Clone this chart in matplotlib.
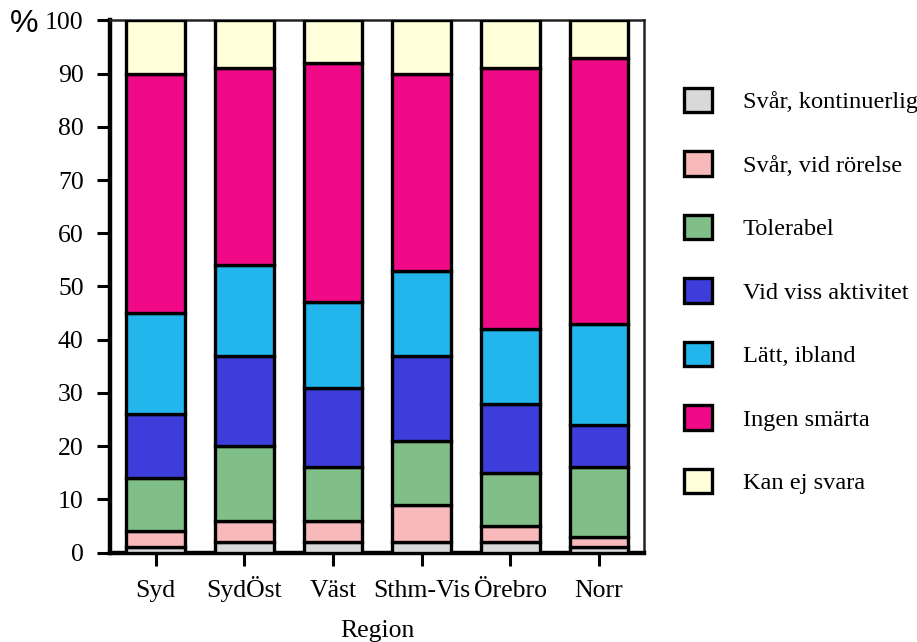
import matplotlib
matplotlib.use("Agg")
import matplotlib.pyplot as plt
import numpy as np

regions = ["Syd", "SydÖst", "Väst", "Sthm-Vis", "Örebro", "Norr"]
series = ["Svår, kontinuerlig", "Svår, vid rörelse", "Tolerabel",
          "Vid viss aktivitet", "Lätt, ibland", "Ingen smärta", "Kan ej svara"]

svar_kontinuerlig = [1, 2, 2, 2, 2, 1]
svar_vid_rorelse = [3, 4, 4, 7, 3, 2]
tolerabel = [10, 14, 10, 12, 10, 13]
vid_viss_aktivitet = [12, 17, 15, 16, 13, 8]
latt_ibland = [19, 17, 16, 16, 14, 19]
ingen_smarta = [45, 37, 45, 37, 49, 50]
kan_ej_svara = [10, 9, 8, 10, 9, 7]

values = [svar_kontinuerlig, svar_vid_rorelse, tolerabel, vid_viss_aktivitet,
          latt_ibland, ingen_smarta, kan_ej_svara]
colors = ["#d9d9d9", "#f7b9b9", "#80c088", "#3d3ddc", "#22b6ec", "#f00a87", "#ffffda"]

serif = ["Liberation Serif", "DejaVu Serif"]
plt.rcParams["font.family"] = serif

fig = plt.figure(figsize=(9.17, 6.42), dpi=100)
ax = fig.add_axes([0.12, 0.1394, 0.5823, 0.8287])

x = np.arange(len(regions))
bottom = np.zeros(len(regions))
handles = []
for vals, col, name in zip(values, colors, series):
    b = ax.bar(x, vals, width=0.66, bottom=bottom, color=col,
               edgecolor="black", linewidth=2.4, label=name, zorder=3)
    handles.append(b)
    bottom += np.array(vals)

ax.set_xlim(-0.513, 5.507)
ax.set_ylim(0, 100)
ax.set_yticks(np.arange(0, 101, 10))
ax.set_xticks(x)
ax.set_xticklabels(regions)
ax.tick_params(axis="both", labelsize=18.5, direction="out", length=9.5,
               width=2.2, color="black")
ax.tick_params(axis="y", pad=9.5)
ax.tick_params(axis="x", pad=22.5)
for lbl in ax.get_xticklabels():
    lbl.set_verticalalignment("baseline")

for side in ["left", "bottom"]:
    ax.spines[side].set_linewidth(3.2)
for side in ["top", "right"]:
    ax.spines[side].set_linewidth(1.8)
    ax.spines[side].set_color("#222222")

ax.set_xlabel("Region", fontsize=18.5, labelpad=13)
fig.text(0.011, 0.962, "%", fontsize=23, family=["Liberation Sans", "DejaVu Sans"],
         va="center", ha="left")

leg = ax.legend(handles=handles, labels=series, loc="upper left",
                bbox_to_anchor=(1.056, 0.892), frameon=False, fontsize=17.6,
                handlelength=1.15, handleheight=1.15, labelspacing=1.56,
                handletextpad=1.27, borderaxespad=0)

fig.savefig("out.png", dpi=100)
